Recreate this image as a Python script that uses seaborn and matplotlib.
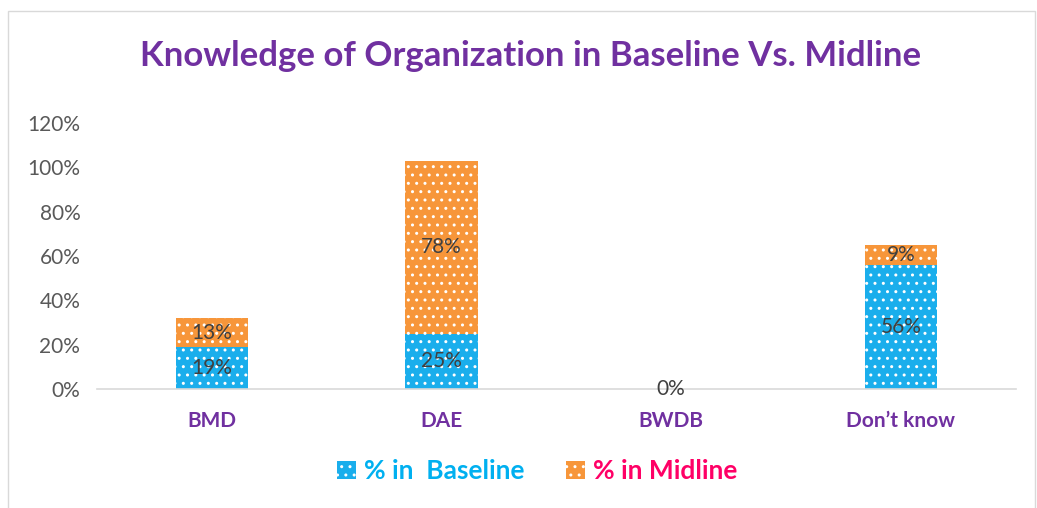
import numpy as np
import pandas as pd
import seaborn as sns
import matplotlib
matplotlib.use("Agg")
from matplotlib import pyplot as plt
from matplotlib.patches import Rectangle

# Dữ liệu
categories = ["BMD", "DAE", "BWDB", "Don\u2019t know"]
baseline = [0.19, 0.25, 0.0, 0.56]
midline = [0.13, 0.78, 0.0, 0.09]
yticks = [0, 0.2, 0.4, 0.6, 0.8, 1.0, 1.2]

blue = "#1AAEEC"
orange = "#F7963A"
purple = "#7030A0"

sns.set_style("white")
plt.rcParams["font.family"] = ["Lato", "DejaVu Sans"]
plt.rcParams["hatch.color"] = "white"
plt.rcParams["hatch.linewidth"] = 1.0

df = pd.DataFrame({"cat": categories, "base": baseline, "mid": midline})
df["total"] = df["base"] + df["mid"]

fig = plt.figure(figsize=(10.37, 5.08), dpi=100)
ax = fig.add_axes([0.0935, 0.234, 0.886, 0.524])

# tổng (midline nằm trên) rồi phủ baseline
sns.barplot(data=df, x="cat", y="total", color=orange, saturation=1, width=0.315,
            edgecolor="white", linewidth=0, hatch="..", ax=ax)
sns.barplot(data=df, x="cat", y="base", color=blue, saturation=1, width=0.315,
            edgecolor="white", linewidth=0, hatch="..", ax=ax)

# nhãn giá trị
lab_kw = dict(ha="center", va="center", fontsize=15, color="#404040")
for i, (b, m) in enumerate(zip(baseline, midline)):
    if b + m == 0:
        ax.text(i, 0, "0%", **lab_kw)
        continue
    ax.text(i, b / 2, f"{b*100:.0f}%", **lab_kw)
    ax.text(i, b + m / 2, f"{m*100:.0f}%", **lab_kw)

ax.set_ylim(0, 1.2)
ax.set_xlim(-0.5, 3.5)
ax.set_yticks(yticks)
ax.set_yticklabels([f"{v*100:.0f}%" for v in yticks], fontsize=15, color="#595959")
ax.set_xticklabels(categories, fontsize=15, color=purple, fontweight="bold")
ax.tick_params(axis="x", pad=16, length=0)
ax.tick_params(axis="y", length=0, pad=12)
ax.set_xlabel("")
ax.set_ylabel("")
for s in ["top", "right", "left"]:
    ax.spines[s].set_visible(False)
ax.spines["bottom"].set_color("#D9D9D9")
ax.spines["bottom"].set_linewidth(1.2)

fig.text(0.512, 0.89, "Knowledge of Organization in Baseline Vs. Midline", ha="center", va="center",
         fontsize=25, fontweight="bold", color=purple)

# chú thích
h1 = Rectangle((0, 0), 1, 1, facecolor=blue, hatch="..", edgecolor="white", linewidth=0)
h2 = Rectangle((0, 0), 1, 1, facecolor=orange, hatch="..", edgecolor="white", linewidth=0)
leg = fig.legend([h1, h2], ["% in  Baseline", "% in Midline"], loc="center", bbox_to_anchor=(0.518, 0.072),
                 ncol=2, frameon=False, handlelength=0.7, handleheight=0.7, handletextpad=0.3,
                 columnspacing=1.6, prop={"size": 19, "weight": "bold"})
leg.get_texts()[0].set_color("#00B0F0")
leg.get_texts()[1].set_color("#FF0066")

# khung biểu đồ
fig.patches.append(Rectangle((0.008, -0.01), 0.99, 0.988, transform=fig.transFigure, fill=False,
                             edgecolor="#D9D9D9", linewidth=1))

fig.savefig("out.png", dpi=100)
